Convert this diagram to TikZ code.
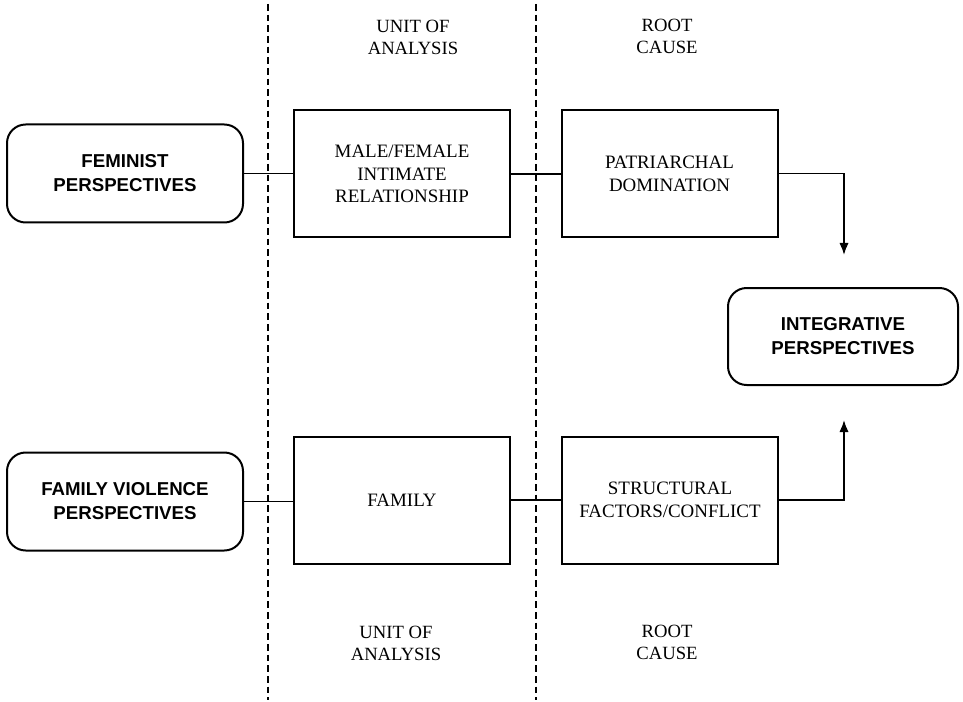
\documentclass[tikz,border=0pt]{standalone}
\usepackage{fontspec}
\setmainfont{Liberation Serif}
\newfontfamily\arialfont{Liberation Sans}
\usepackage{tikz}
\usetikzlibrary{arrows.meta}
\usetikzlibrary{calc}

\begin{document}
\begin{tikzpicture}[x=0.75pt, y=-0.75pt,
        persp_style/.style={draw=black, line width=1.5pt, rounded corners=14pt, align=center, inner sep=0pt, minimum width=177pt, minimum height=73.5pt, font=\arialfont\bfseries\fontsize{14pt}{18pt}\selectfont},
        box_style/.style={draw=black, line width=1.5pt, align=center, inner sep=0pt, minimum width=162pt, minimum height=95.25pt, font=\fontsize{14.2pt}{17pt}\selectfont},
        label_style/.style={align=center, inner sep=0pt, font=\fontsize{14pt}{16.5pt}\selectfont},
        divider_style/.style={draw=black, line width=1.5pt, dash pattern=on 5pt off 3pt},
        edge_style/.style={draw=black, line width=1.3pt},
        arrow_style/.style={draw=black, line width=1.3pt, -{Latex[length=9pt,width=7pt]}}]

        \useasboundingbox (0,0) rectangle (963,702);

        \coordinate (d1_top) at (268,4);
        \coordinate (d1_bot) at (268,700);
        \coordinate (d2_top) at (536,4);
        \coordinate (d2_bot) at (536,700);

        \draw [divider_style] (d1_top) -- (d1_bot);

        \draw [divider_style] (d2_top) -- (d2_bot);

        \node [label_style] (unit_top) at (413,37.5) {UNIT OF\\ANALYSIS};

        \node [label_style] (root_top) at (667,36.5) {ROOT\\CAUSE};

        \node [label_style] (unit_bot) at (396,643.5) {UNIT OF\\ANALYSIS};

        \node [label_style] (root_bot) at (667,642) {ROOT\\CAUSE};

        \node [persp_style] (fem) at (125,173.5) {FEMINIST\\PERSPECTIVES};

        \node [persp_style] (fv) at (125,501.5) {FAMILY VIOLENCE\\PERSPECTIVES};

        \node [persp_style, minimum width=172.5pt, minimum height=72.75pt] (integ) at (843,336.5) {INTEGRATIVE\\PERSPECTIVES};

        \node [box_style] (mf) at (402,174) {MALE/FEMALE\\INTIMATE\\RELATIONSHIP};

        \node [box_style] (pat) at (669.5,173.5) {PATRIARCHAL\\DOMINATION};

        \node [box_style] (fam) at (402,500) {FAMILY};

        \node [box_style] (sf) at (670,500) {STRUCTURAL\\FACTORS/CONFLICT};

        \coordinate (top_tip) at (844,255);
        \coordinate (bot_tip) at (844,420);

        \draw [edge_style] (fem.east) -- (fem.east -| mf.west);

        \draw [edge_style] (mf.east) -- (mf.east -| pat.west);

        \draw [edge_style] (fv.east) -- (fv.east -| fam.west);

        \draw [edge_style] (fam.east) -- (fam.east -| sf.west);

        \draw [arrow_style] (pat.east) -| (top_tip);

        \draw [arrow_style] (sf.east) -| (bot_tip);

        \end{tikzpicture}
\end{document}
